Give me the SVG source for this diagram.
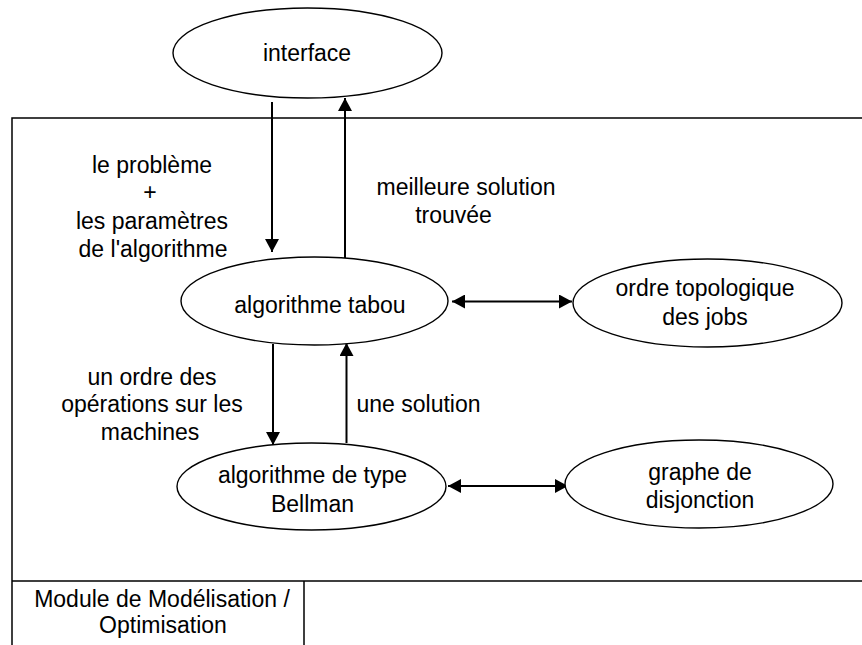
<svg xmlns="http://www.w3.org/2000/svg" width="862" height="645" viewBox="0 0 862 645">
<style>
text{font-family:"Liberation Sans",Arial,sans-serif;font-size:23px;fill:#000;text-anchor:middle}
.node{fill:#fff;stroke:#000;stroke-width:1.4}
.frame{fill:none;stroke:#000;stroke-width:1.5}
.conn{stroke:#000;stroke-width:2;fill:none}
</style>
<defs>
<marker id="ah" markerUnits="userSpaceOnUse" markerWidth="14" markerHeight="14" refX="13" refY="7" orient="auto-start-reverse">
<path d="M0,0 L13,7 L0,14 z" fill="#000"/>
</marker>
</defs>
<g id="frame">
<path class="frame" d="M870,118 H12 V650 M12,581 H870 M304,581 V650"/>
<text x="162" y="607">Module de Modélisation /</text>
<text x="163" y="633">Optimisation</text>
</g>
<g id="connectors">
<line class="conn" x1="272" y1="102" x2="272" y2="252" marker-end="url(#ah)"/>
<line class="conn" x1="345" y1="258" x2="345" y2="98" marker-end="url(#ah)"/>
<line class="conn" x1="273" y1="344" x2="273" y2="445" marker-end="url(#ah)"/>
<line class="conn" x1="346.5" y1="443" x2="346.5" y2="343" marker-end="url(#ah)"/>
<line class="conn" x1="452" y1="301.5" x2="572" y2="301.5" marker-start="url(#ah)" marker-end="url(#ah)"/>
<line class="conn" x1="448" y1="486" x2="568" y2="486" marker-start="url(#ah)" marker-end="url(#ah)"/>
<text x="152" y="173">le problème</text>
<text x="150" y="200">+</text>
<text x="152" y="229">les paramètres</text>
<text x="153" y="257">de l'algorithme</text>
<text x="466" y="195">meilleure solution</text>
<text x="453.5" y="223">trouvée</text>
<text x="152" y="385">un ordre des</text>
<text x="152" y="412">opérations sur les</text>
<text x="150" y="440">machines</text>
<text x="418.5" y="412">une solution</text>
</g>
<g id="interface">
<ellipse class="node" cx="307.5" cy="53" rx="134.5" ry="45"/>
<text x="307" y="61">interface</text>
</g>
<g id="tabou">
<ellipse class="node" cx="314.5" cy="301" rx="133.5" ry="44"/>
<text x="320" y="313">algorithme tabou</text>
</g>
<g id="topo">
<ellipse class="node" cx="707.5" cy="303" rx="134.5" ry="44"/>
<text x="705" y="296">ordre topologique</text>
<text x="705" y="325">des jobs</text>
</g>
<g id="bellman">
<ellipse class="node" cx="311.5" cy="486.5" rx="134.5" ry="43.5"/>
<text x="312.5" y="483">algorithme de type</text>
<text x="312.5" y="512">Bellman</text>
</g>
<g id="disjonction">
<ellipse class="node" cx="699" cy="484" rx="134" ry="44"/>
<text x="700" y="480">graphe de</text>
<text x="700" y="508">disjonction</text>
</g>
</svg>
